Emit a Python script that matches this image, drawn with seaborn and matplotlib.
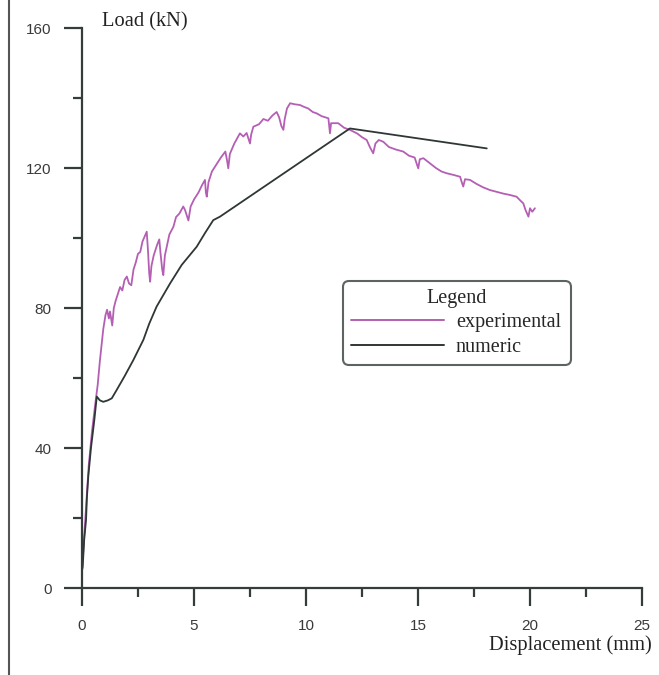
import matplotlib
matplotlib.use("Agg")
import matplotlib.pyplot as plt
import seaborn as sns
import pandas as pd
from matplotlib.ticker import MultipleLocator
from matplotlib.lines import Line2D

# ---- data ----
exp_x = [0.0, 0.1, 0.2, 0.3, 0.45, 0.6, 0.7, 0.8, 0.9, 0.95, 1.05, 1.12, 1.2, 1.25, 1.35, 1.42,
         1.5, 1.6, 1.7, 1.8, 1.9, 2.0, 2.1, 2.2, 2.3, 2.4, 2.5, 2.6, 2.7, 2.8, 2.89, 2.95, 3.0,
         3.04, 3.1, 3.2, 3.35, 3.45, 3.5, 3.58, 3.63, 3.7, 3.8, 3.9, 4.08, 4.2, 4.35, 4.52, 4.6,
         4.7, 4.75, 4.85, 5.0, 5.2, 5.35, 5.49, 5.53, 5.57, 5.65, 5.8, 6.0, 6.2, 6.4, 6.48, 6.53,
         6.6, 6.8, 7.05, 7.2, 7.35, 7.45, 7.5, 7.55, 7.65, 7.9, 8.1, 8.3, 8.5, 8.69, 8.8, 8.9,
         8.99, 9.05, 9.15, 9.29, 9.5, 9.73, 9.9, 10.1, 10.3, 10.48, 10.7, 11.0, 11.05, 11.07,
         11.12, 11.44, 11.7, 11.96, 12.3, 12.5, 12.71, 12.85, 13.0, 13.1, 13.25, 13.45, 13.7,
         14.0, 14.34, 14.6, 14.85, 14.95, 15.01, 15.08, 15.24, 15.5, 15.8, 16.05, 16.28, 16.6,
         16.88, 16.95, 17.02, 17.1, 17.32, 17.6, 17.9, 18.21, 18.5, 18.8, 19.1, 19.4, 19.6,
         19.7, 19.8, 19.93, 20.0, 20.1, 20.22]
exp_y = [5, 15, 25, 35, 45, 53, 58, 65, 71, 74, 78, 79.5, 77, 79, 75, 80,
         82, 84, 86, 85, 88, 89, 87, 86.5, 91, 93, 95.5, 96, 99, 100.5, 101.8, 96, 90,
         87.5, 92, 95, 98, 99.6, 96, 91, 89.4, 95, 98, 101, 103.2, 106, 107, 109, 108,
         106, 105, 109, 111, 113, 115, 116.6, 113, 111.8, 116, 119, 121, 123, 124.7, 122, 119.9,
         124, 127, 129.9, 129, 130, 128, 127, 129.5, 131.8, 132.5, 134, 133.5, 135, 136, 134.5, 132,
         130.9, 134, 137, 138.5, 138.2, 138, 137.5, 137, 136, 135.6, 134.8, 134.2, 131, 129.9,
         132.8, 132.8, 131.5, 130.9, 129.8, 128.8, 128, 126, 124.2, 127, 128, 127.5, 126,
         125.3, 124.7, 123.5, 123, 121, 119.9, 122.5, 122.8, 121.5, 120, 119, 118.5, 118,
         117.5, 116, 114.7, 116.8, 116.6, 115.5, 114.5, 113.7, 113.2, 112.7, 112.3, 111.8, 110.5,
         109.9, 108, 106.1, 108.5, 107.5, 108.5]

num_x = [0.0, 0.03, 0.1, 0.18, 0.22, 0.28, 0.4, 0.55, 0.66, 0.8, 0.95, 1.15, 1.33, 1.55, 1.9,
         2.29, 2.74, 3.0, 3.33, 3.93, 4.45, 5.12, 5.5, 5.86, 6.16, 11.96, 18.07]
num_y = [5, 6, 14, 19.4, 26, 31.8, 40, 48, 54.7, 53.6, 53.2, 53.6, 54.2, 56.6, 60.5,
         65.1, 70.9, 75.5, 80.4, 87, 92.3, 97.5, 101.5, 105.1, 106.1, 131.3, 125.6]

series_names = ["experimental", "numeric"]
x_ticks = [0, 5, 10, 15, 20, 25]
y_ticks = [0, 40, 80, 120, 160]

PURPLE = "#b45fb4"
DARK = "#2f3636"
AX = "#353c3c"

df = pd.concat([
    pd.DataFrame({"x": exp_x, "y": exp_y, "series": series_names[0]}),
    pd.DataFrame({"x": num_x, "y": num_y, "series": series_names[1]}),
], ignore_index=True)

sns.set_style("white")
plt.rcParams["font.family"] = ["DejaVu Sans"]

fig = plt.figure(figsize=(6.59, 6.75), dpi=100)
ax = fig.add_axes([82/659, 87/675, 560/659, 560/675])

sns.lineplot(data=df, x="x", y="y", hue="series", palette=[PURPLE, DARK],
             sort=False, estimator=None, units="series", ax=ax, legend=False, linewidth=1.3)

ax.set_xlim(0, 25)
ax.set_ylim(0, 160)
ax.set_xticks(x_ticks)
ax.set_yticks(y_ticks)
ax.xaxis.set_minor_locator(MultipleLocator(2.5))
ax.yaxis.set_minor_locator(MultipleLocator(20))
ax.set_xlabel("")
ax.set_ylabel("")

for s in ["top", "right"]:
    ax.spines[s].set_visible(False)
for s in ["left", "bottom"]:
    ax.spines[s].set_color(AX)
    ax.spines[s].set_linewidth(1.6)

ax.tick_params(which="both", bottom=True, left=True, top=False, right=False)
ax.tick_params(which="major", direction="out", length=13, width=1.6, color=AX,
               labelsize=11, labelcolor="#3a3a3a", pad=9)
ax.tick_params(which="minor", direction="out", length=6.5, width=1.6, color=AX)
for lab in ax.get_xticklabels() + ax.get_yticklabels():
    lab.set_fontfamily("Liberation Sans")

serif = "Liberation Serif"
fig.text(102/659, 1 - 22/675, "Load (kN)", family=serif, fontsize=14.8, color="#222",
         ha="left", va="center")
fig.text(652/659, 1 - 645/675, "Displacement (mm)", family=serif, fontsize=14.8, color="#222",
         ha="right", va="center")

handles = [Line2D([], [], color=PURPLE, lw=1.4), Line2D([], [], color=DARK, lw=1.4)]
leg = ax.legend(handles, series_names, title="Legend",
                loc="upper left", bbox_to_anchor=(343/659, 1 - 288/675, (571-343)/659, 0.01),
                bbox_transform=fig.transFigure, mode="expand",
                prop={"family": serif, "size": 14.5}, title_fontproperties={"family": serif, "size": 14.5},
                handlelength=4.6, handletextpad=0.6, labelspacing=0.25, borderpad=0.4,
                frameon=True, fancybox=True, borderaxespad=0)
leg.get_frame().set_edgecolor(AX)
leg.get_frame().set_linewidth(1.5)
leg.get_frame().set_boxstyle("round,pad=0,rounding_size=0.3")

# left border line of the figure
fig.add_artist(Line2D([9/659, 9/659], [0, 1], transform=fig.transFigure, color="#555", lw=1.5))

fig.savefig("out.png", dpi=100)
